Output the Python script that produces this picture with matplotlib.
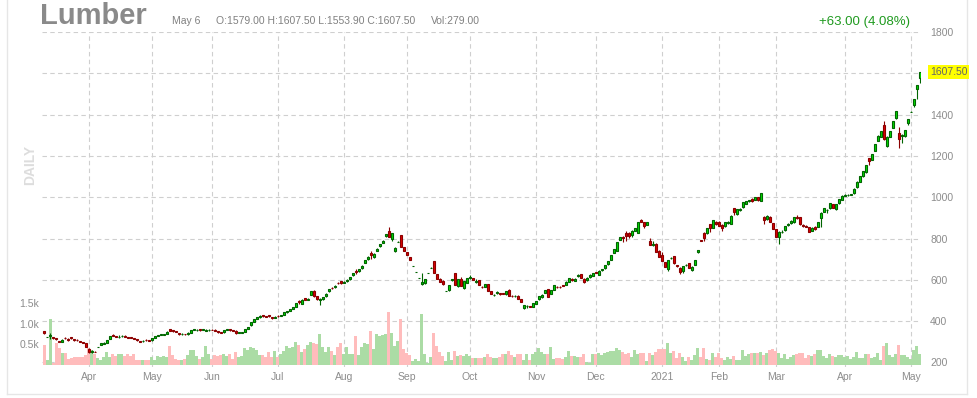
import matplotlib as mpl
mpl.use('Agg')
import matplotlib.pyplot as plt
import matplotlib.transforms as mtransforms
from matplotlib.lines import Line2D
import numpy as np
import pandas as pd

plt.rcParams['font.family'] = ['Liberation Sans', 'DejaVu Sans']

# daily OHLC + volume, 2020-03-11 .. 2021-05-06
opens = [
    350, 323, 326, 322, 318, 305, 301, 320, 314, 322,
    312, 310, 305, 298, 292, 266, 250, 253, 274, 286,
    290, 296, 315, 334, 328, 323, 327, 330, 321, 322,
    318, 312, 305, 302, 311, 308, 308, 318, 328, 333,
    335, 338, 360, 357, 352, 341, 336, 339, 337, 345,
    357, 355, 362, 357, 354, 355, 358, 358, 350, 347,
    346, 357, 360, 356, 354, 344, 343, 348, 362, 380,
    398, 410, 419, 429, 424, 428, 418, 415, 426, 425,
    432, 443, 450, 460, 470, 499, 485, 510, 502, 527,
    546, 521, 500, 505, 520, 545, 562, 563, 586, 592,
    585, 592, 603, 622, 645, 642, 655, 682, 700, 730,
    712, 740, 762, 780, 810, 836, 796, 741, 785, 817,
    757, 735, 711, 666, 637, 608, 578, 583, 632, 659,
    690, 627, 605, 595, 546, 552, 600, 632, 572, 603,
    562, 586, 610, 608, 588, 597, 566, 567, 580, 546,
    525, 535, 536, 534, 531, 551, 524, 521, 523, 506,
    462, 473, 472, 470, 483, 506, 515, 538, 554, 532,
    551, 566, 567, 574, 575, 591, 606, 596, 620, 627,
    605, 598, 613, 620, 637, 624, 648, 656, 675, 696,
    732, 741, 793, 806, 825, 826, 817, 837, 829, 890,
    879, 867, 788, 770, 774, 741, 719, 685, 651, 705,
    715, 670, 657, 644, 670, 681, 648, 674, 734, 791,
    825, 825, 869, 853, 882, 882, 866, 861, 876, 871,
    948, 918, 940, 952, 967, 982, 990, 987, 1000, 982,
    903, 893, 906, 874, 845, 806, 831, 842, 866, 874,
    879, 905, 903, 866, 862, 854, 837, 858, 858, 898,
    930, 937, 947, 966, 942, 971, 987, 1008, 1010, 1012,
    1019, 1048, 1075, 1103, 1121, 1189, 1181, 1226, 1273, 1294,
    1350, 1250, 1294, 1337, 1383, 1313, 1295, 1298, 1361, 1414,
    1447, 1523, 1579,
]
highs = [
    352, 324, 343, 324, 320, 306, 312, 322, 316, 323,
    314, 313, 306, 300, 294, 268, 260, 255, 276, 296,
    298, 311, 330, 336, 330, 332, 333, 331, 322, 324,
    319, 313, 306, 308, 312, 310, 320, 330, 335, 338,
    340, 351, 362, 359, 354, 343, 341, 340, 346, 359,
    362, 361, 364, 362, 360, 360, 362, 360, 352, 349,
    359, 362, 361, 358, 356, 348, 349, 364, 372, 398,
    411, 421, 430, 431, 426, 432, 419, 423, 428, 432,
    445, 451, 461, 469, 489, 500, 506, 512, 512, 548,
    550, 523, 510, 518, 534, 558, 564, 574, 590, 594,
    593, 602, 615, 634, 652, 653, 671, 697, 714, 740,
    728, 752, 774, 792, 823, 857, 828, 758, 787, 819,
    759, 737, 712, 667, 638, 609, 632, 604, 633, 661,
    692, 629, 607, 597, 547, 577, 606, 634, 605, 615,
    596, 611, 622, 610, 605, 599, 570, 582, 582, 548,
    531, 545, 538, 536, 548, 556, 526, 526, 525, 508,
    480, 480, 474, 488, 499, 524, 531, 553, 556, 553,
    577, 569, 569, 576, 593, 610, 608, 610, 628, 629,
    607, 613, 627, 635, 640, 647, 654, 673, 693, 721,
    751, 784, 808, 812, 835, 830, 842, 852, 881, 895,
    881, 882, 802, 788, 776, 743, 735, 687, 698, 712,
    717, 674, 660, 669, 678, 683, 666, 698, 746, 791,
    830, 852, 871, 890, 885, 884, 868, 881, 884, 912,
    950, 944, 948, 978, 984, 988, 994, 1002, 1003, 1021,
    910, 915, 908, 876, 847, 835, 840, 863, 874, 888,
    905, 912, 905, 870, 866, 856, 855, 860, 881, 927,
    949, 945, 973, 968, 969, 992, 1010, 1014, 1015, 1017,
    1043, 1077, 1105, 1129, 1158, 1192, 1210, 1260, 1300, 1323,
    1371, 1295, 1323, 1371, 1419, 1338, 1305, 1327, 1379, 1416,
    1478, 1545, 1607.5,
]
lows = [
    340, 322, 314, 314, 310, 298, 299, 313, 306, 315,
    305, 306, 299, 293, 275, 248, 244, 251, 273, 284,
    289, 292, 314, 326, 322, 320, 325, 322, 316, 317,
    312, 306, 299, 300, 305, 304, 306, 316, 326, 331,
    333, 336, 350, 348, 346, 334, 334, 333, 335, 343,
    355, 353, 354, 355, 352, 352, 355, 350, 343, 342,
    344, 355, 352, 351, 340, 342, 341, 346, 360, 378,
    396, 408, 417, 421, 418, 419, 410, 413, 421, 423,
    430, 440, 448, 458, 468, 485, 483, 500, 500, 525,
    518, 503, 478, 502, 518, 543, 555, 561, 578, 580,
    583, 590, 601, 620, 630, 640, 653, 680, 698, 700,
    708, 738, 760, 778, 808, 806, 790, 735, 783, 759,
    739, 720, 697, 665, 636, 607, 576, 581, 631, 657,
    633, 602, 588, 577, 545, 545, 592, 573, 565, 570,
    556, 584, 605, 598, 586, 575, 560, 565, 546, 531,
    520, 533, 529, 530, 529, 521, 517, 519, 507, 492,
    460, 466, 467, 468, 481, 504, 513, 536, 516, 530,
    549, 560, 561, 569, 573, 589, 596, 594, 615, 609,
    586, 596, 611, 618, 632, 622, 645, 654, 673, 694,
    730, 739, 791, 782, 790, 805, 806, 835, 827, 878,
    852, 865, 767, 762, 735, 710, 689, 662, 645, 700,
    678, 663, 630, 632, 665, 656, 644, 672, 728, 789,
    788, 822, 830, 850, 867, 861, 838, 855, 870, 869,
    912, 916, 935, 950, 965, 976, 978, 985, 980, 980,
    868, 888, 880, 844, 807, 774, 826, 838, 862, 872,
    877, 895, 867, 858, 854, 831, 835, 840, 856, 858,
    928, 922, 945, 948, 938, 969, 985, 1005, 1007, 1009,
    1015, 1045, 1072, 1100, 1118, 1156, 1178, 1222, 1270, 1290,
    1275, 1242, 1290, 1334, 1380, 1237, 1261, 1294, 1352, 1412,
    1439, 1475, 1553.9,
]
closes = [
    344, 323, 333, 318, 313, 301, 309, 318, 309, 318,
    309, 309, 301, 296, 277, 252, 254, 252, 275, 294,
    296, 309, 328, 330, 325, 325, 330, 325, 318, 320,
    315, 309, 301, 306, 309, 306, 318, 328, 333, 336,
    338, 349, 352, 350, 349, 336, 338, 336, 344, 357,
    360, 357, 357, 360, 357, 357, 357, 352, 346, 345,
    357, 360, 355, 354, 342, 346, 346, 362, 370, 396,
    409, 419, 427, 424, 421, 423, 414, 421, 424, 430,
    443, 449, 459, 467, 487, 494, 503, 503, 509, 546,
    521, 506, 505, 515, 532, 556, 559, 572, 583, 587,
    591, 600, 613, 632, 640, 651, 669, 695, 712, 722,
    725, 750, 772, 790, 821, 809, 825, 755, 785, 761,
    741, 722, 698, 666, 637, 608, 589, 602, 632, 659,
    635, 604, 590, 579, 546, 575, 603, 575, 603, 572,
    594, 609, 612, 600, 592, 577, 564, 580, 548, 533,
    527, 543, 531, 533, 546, 523, 520, 523, 509, 494,
    478, 474, 470, 486, 497, 522, 527, 551, 518, 551,
    575, 563, 565, 572, 591, 608, 598, 606, 624, 611,
    591, 611, 625, 633, 635, 645, 651, 671, 691, 719,
    749, 782, 806, 801, 814, 812, 838, 850, 879, 882,
    861, 880, 769, 774, 737, 712, 691, 664, 696, 708,
    680, 667, 638, 667, 672, 658, 664, 696, 744, 790,
    801, 850, 853, 888, 869, 863, 850, 879, 878, 910,
    930, 942, 944, 976, 982, 985, 980, 1000, 987, 1019,
    890, 909, 882, 846, 809, 833, 834, 861, 869, 886,
    903, 900, 869, 860, 858, 833, 853, 846, 879, 925,
    947, 940, 971, 950, 967, 990, 1008, 1011, 1012, 1015,
    1041, 1075, 1103, 1127, 1156, 1176, 1208, 1258, 1298, 1321,
    1281, 1293, 1321, 1369, 1417, 1281, 1300, 1325, 1377, 1414,
    1476, 1544.5, 1607.5,
]
volumes = [
    490, 120, 1120, 60, 530, 410, 285, 300, 150, 180,
    200, 190, 200, 200, 245, 410, 365, 270, 165, 125,
    205, 325, 190, 270, 220, 270, 270, 220, 270, 220,
    270, 120, 120, 120, 120, 120, 200, 130, 220, 200,
    230, 200, 470, 240, 140, 130, 120, 150, 250, 370,
    360, 230, 140, 200, 470, 260, 150, 240, 220, 250,
    280, 220, 260, 150, 317, 200, 220, 423, 370, 447,
    423, 370, 244, 244, 203, 317, 203, 350, 203, 268,
    350, 463, 406, 447, 561, 488, 317, 390, 488, 561,
    537, 520, 756, 439, 317, 439, 341, 244, 439, 537,
    268, 439, 268, 268, 707, 244, 439, 537, 512, 829,
    390, 756, 707, 732, 748, 1293, 776, 472, 585, 1122,
    390, 285, 244, 106, 146, 106, 1236, 269, 57, 203,
    780, 463, 325, 220, 106, 317, 114, 341, 220, 244,
    220, 268, 220, 171, 171, 171, 171, 203, 268, 203,
    171, 171, 203, 268, 268, 341, 244, 203, 268, 268,
    130, 268, 130, 268, 317, 415, 317, 268, 268, 439,
    146, 171, 171, 146, 203, 341, 220, 220, 203, 203,
    260, 81, 41, 268, 260, 285, 244, 301, 325, 341,
    341, 406, 366, 325, 268, 285, 203, 366, 268, 301,
    301, 98, 285, 244, 325, 382, 390, 390, 528, 301,
    341, 163, 285, 203, 98, 203, 122, 244, 406, 203,
    423, 138, 122, 285, 203, 285, 163, 122, 203, 138,
    228, 122, 122, 366, 228, 268, 285, 285, 285, 325,
    244, 300, 366, 390, 330, 300, 160, 268, 150, 200,
    240, 260, 300, 290, 180, 250, 230, 260, 366, 366,
    230, 180, 280, 220, 200, 240, 240, 190, 230, 150,
    200, 325, 170, 170, 280, 260, 170, 200, 300, 120,
    460, 530, 240, 200, 280, 490, 250, 240, 200, 150,
    370, 460, 279,
]

price_grid = [200, 400, 600, 800, 1000, 1200, 1400, 1600, 1800]
price_labels = [200, 400, 600, 800, 1000, 1200, 1400, 1800]
vol_ticks = [500, 1000, 1500]
vol_labels = ['0.5k', '1.0k', '1.5k']
month_labels = ['Apr', 'May', 'Jun', 'Jul', 'Aug', 'Sep', 'Oct', 'Nov', 'Dec',
                '2021', 'Feb', 'Mar', 'Apr', 'May']
holidays = ['2020-04-10', '2020-05-25', '2020-07-03', '2020-09-07', '2020-11-26',
            '2020-12-25', '2021-01-01', '2021-01-18', '2021-02-15']

dates = pd.bdate_range('2020-03-11', '2021-05-06', freq='C', holidays=holidays)
month_pos = dates.searchsorted(pd.date_range('2020-04-01', '2021-05-01', freq='MS'))

o = np.array(opens, dtype=float)
h = np.array(highs, dtype=float)
l = np.array(lows, dtype=float)
c = np.array(closes, dtype=float)
v = np.array(volumes, dtype=float)
x = np.arange(len(c))
up = c >= o

W, H = 977, 398
rect = [42 / W, 1 - 367 / H, (921 - 42) / W, (367 - 32) / H]
fig = plt.figure(figsize=(W / 100, H / 100), dpi=100)
axv = fig.add_axes(rect, zorder=1)
ax = fig.add_axes(rect, zorder=2, sharex=axv)
ax.patch.set_visible(False)

grid_kw = dict(color='#cfcfcf', lw=0.8, ls=(0, (4, 3)))
gray = '#8c8c8c'

# volume (bottom layer)
axv.bar(x, v, width=1.0, color=np.where(up, '#abdca5', '#ffbcbc'), linewidth=0, zorder=3)
axv.set_ylim(-49, 8122)
axv.set_yticks(vol_ticks, vol_labels)
axv.tick_params(axis='y', length=0, pad=2, labelsize=7.5, labelcolor=gray)
axv.tick_params(axis='x', length=0, labelbottom=False)
for mp in month_pos:
    axv.axvline(mp, zorder=1, **grid_kw)
tr = mtransforms.blended_transform_factory(axv.transAxes, ax.transData)
for p in price_grid:
    axv.add_line(Line2D([0, 1], [p, p], transform=tr, zorder=1, **grid_kw))

# candles
ax.set_xlim(-0.67, len(c) - 0.6)
ax.set_ylim(178, 1800)
edge = np.where(up, '#006400', '#8b0000')
fill = np.where(up, '#00dd00', '#dd0000')
ax.vlines(x, l, h, colors=edge, lw=0.8, zorder=3)
ax.bar(x, np.abs(c - o), bottom=np.minimum(o, c), width=0.72,
       color=fill, edgecolor=edge, linewidth=0.8, zorder=4)

ax.yaxis.tick_right()
ax.set_yticks(price_labels)
ax.tick_params(axis='y', length=0, pad=6.5, labelsize=7.5, labelcolor=gray)
ax.set_xticks(month_pos, month_labels)
ax.tick_params(axis='x', length=0, pad=3.5, labelsize=7.5, labelcolor=gray)
for a in (ax, axv):
    for s in a.spines.values():
        s.set_visible(False)

# last price tag
ax.text(1 + 9 / 879, c[-1], f'{c[-1]:.2f}', transform=mtransforms.blended_transform_factory(ax.transAxes, ax.transData),
        va='center', ha='left', fontsize=7.5, color='#666666',
        bbox=dict(facecolor='#ffff00', edgecolor='none', pad=1.3))

# header
fig.text(40 / W, 1 - 24 / H, 'Lumber', fontsize=21, fontweight='bold', color='#8a8a8a', va='baseline')
fig.text(172 / W, 1 - 24 / H, 'May 6', fontsize=7.5, color='#808080', va='baseline')
fig.text(216 / W, 1 - 24 / H, f'O:{o[-1]:.2f} H:{h[-1]:.2f} L:{l[-1]:.2f} C:{c[-1]:.2f}',
         fontsize=7.5, color='#808080', va='baseline')
fig.text(431 / W, 1 - 24 / H, f'Vol:{v[-1]:.2f}', fontsize=7.5, color='#808080', va='baseline')
chg = c[-1] - c[-2]
fig.text(910 / W, 1 - 25 / H, f'+{chg:.2f} ({chg / c[-2] * 100:.2f}%)', ha='right', va='baseline',
         fontsize=9.5, color='#1f9a1f')
fig.text(30 / W, 1 - 165 / H, 'DAILY', rotation=90, fontsize=10, fontweight='bold',
         color='#dddddd', ha='center', va='center')

# outer frame
fc = '#e6e6e6'
fig.add_artist(Line2D([7 / W, 7 / W], [1, 1 - 394 / H], color=fc, lw=1))
fig.add_artist(Line2D([967 / W, 967 / W], [1, 1 - 394 / H], color=fc, lw=1))
fig.add_artist(Line2D([7 / W, 967 / W], [1 - 394 / H, 1 - 394 / H], color=fc, lw=1))

fig.savefig('out.png', dpi=100)
plt.close()
